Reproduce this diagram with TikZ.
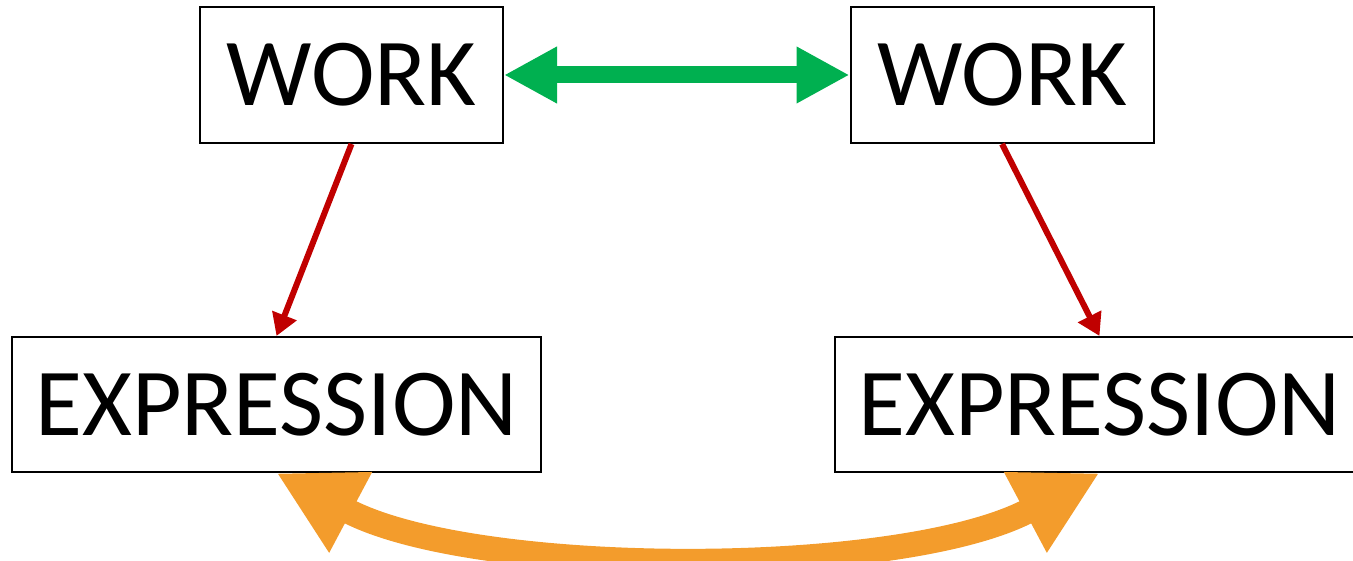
\documentclass[tikz,border=0pt]{standalone}
\usepackage{fontspec}
\setmainfont{Carlito}
\usepackage{tikz}
\usetikzlibrary{arrows.meta}
\definecolor{linkgreen}{HTML}{00B050}
\definecolor{linkred}{HTML}{C00000}
\definecolor{linkorange}{HTML}{F39C2C}

\begin{document}
\begin{tikzpicture}[x=0.5pt, y=0.5pt,
		box/.style={draw=black, line width=1pt, fill=white, inner sep=0pt, font=\fontsize{48pt}{58pt}\selectfont},
		workbox/.style={box, minimum width=151.5pt, minimum height=68pt},
		exprbox/.style={box, minimum width=264.5pt, minimum height=67.5pt},
		redarrow/.style={linkred, line width=3pt, -{Triangle[length=11pt, width=12.5pt]}},
		greenarrow/.style={linkgreen, line width=8.5pt, {Triangle[length=26.5pt, width=26.5pt]}-{Triangle[length=26.5pt, width=26.5pt]}},
		orangearrow/.style={linkorange, line width=12.5pt, {Triangle[length=42pt, width=42.5pt]}-{Triangle[length=42pt, width=42.5pt]}}]
			\useasboundingbox (0, 0) rectangle (1353, 561);
			% boxes
			\node[workbox] (workL) at ( 351.5, 486) {WORK};
			\node[workbox] (workR) at (1002,   486) {WORK};
			\node[exprbox] (exprL) at ( 276.5, 156.5) {EXPRESSION};
			\node[exprbox] (exprR) at (1099.5, 156.5) {EXPRESSION};
			% links
			\draw[greenarrow] (workL.east) -- (workR.west);
			\draw[redarrow] (workL.south) -- (exprL.north);
			\draw[redarrow] (workR.south) -- (exprR.north);
			\draw[orangearrow] (exprL.south) to[out=-28, in=-152, looseness=0.7] (exprR.south);
\end{tikzpicture}
\end{document}
